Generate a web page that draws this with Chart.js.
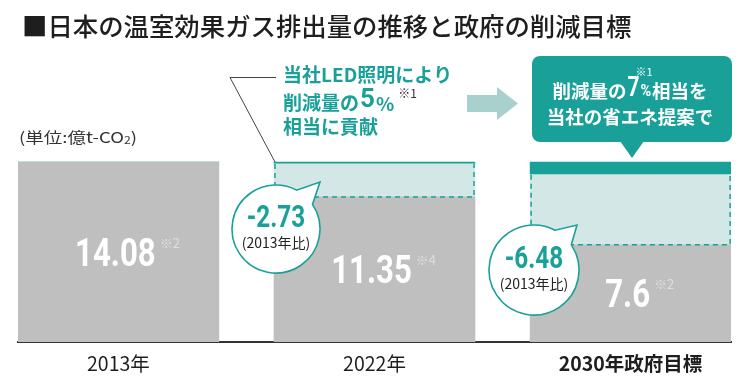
<!DOCTYPE html>
<html>
<head>
<meta charset="utf-8">
<script src="https://cdn.jsdelivr.net/npm/chart.js@4"></script>
<style>
  html, body { margin: 0; padding: 0; background: #fff; }
  #wrap { width: 750px; height: 384px; }
</style>
</head>
<body>
<div id="wrap"><canvas id="co2Chart" width="750" height="384"></canvas></div>
<script>
// Emissions in 億t-CO2
const categories = ['2013年', '2022年', '2030年政府目標'];
const emissions = [14.08, 11.35, 7.6];
const reductionRest = [0, 2.58, 5.49];   // reduction vs 2013, minus the LED / proposal share
const ledShare = [0, 0.15, 0.99];        // share covered by the company (5% / 7%)
const emissionNotes = ['※2', '※4', '※2'];
const reductionLabels = ['', '-2.73', '-6.48'];

const TEAL = '#19a199';
const LIGHT_TEAL = '#d3e8e6';
const GREY = '#bfbfbf';
const JP = '"Noto Sans CJK JP", "Noto Sans", sans-serif';
const NUM = 'Roboto, "Noto Sans", sans-serif';

// condensed bold numbers: squeeze a normal bold face horizontally
function narrowText(ctx, txt, x, y, size, align, sx) {
    sx = sx || 0.8;
    ctx.save();
    ctx.font = 'bold ' + size + 'px ' + NUM;
    const w = ctx.measureText(txt).width * sx;
    let left = x;
    if (align === 'center') left = x - w / 2;
    ctx.translate(left, y);
    ctx.scale(sx, 1);
    ctx.textAlign = 'left';
    ctx.fillText(txt, 0, 0);
    ctx.restore();
    return w;
}
function narrowWidth(ctx, txt, size, sx) {
    ctx.save();
    ctx.font = 'bold ' + size + 'px ' + NUM;
    const w = ctx.measureText(txt).width * (sx || 0.8);
    ctx.restore();
    return w;
}

function bubble(ctx, cx, cy, r, tipX, tipY) {
    const a1 = -62 * Math.PI / 180;
    const a2 = -34 * Math.PI / 180;
    ctx.beginPath();
    ctx.arc(cx, cy, r, a2, a1 + Math.PI * 2, false);
    ctx.lineTo(tipX, tipY);
    ctx.closePath();
    ctx.fillStyle = '#fff';
    ctx.fill();
    ctx.strokeStyle = TEAL;
    ctx.lineWidth = 1.6;
    ctx.stroke();
}

const annotations = {
    id: 'annotations',
    afterDatasetsDraw(chart) {
        const ctx = chart.ctx;
        const base = chart.getDatasetMeta(0).data;
        const dashed = chart.getDatasetMeta(1).data;
        ctx.save();

        // dashed outline around the reduction part
        ctx.strokeStyle = TEAL;
        ctx.lineWidth = 1.5;
        ctx.setLineDash([5, 4]);
        dashed.forEach((el, i) => {
            if (!reductionRest[i]) return;
            const l = el.x - el.width / 2 + 1, r = el.x + el.width / 2 - 1;
            ctx.beginPath();
            ctx.moveTo(l, el.y);
            ctx.lineTo(l, el.base);
            ctx.lineTo(r, el.base);
            ctx.lineTo(r, el.y);
            ctx.stroke();
        });
        ctx.setLineDash([]);

        // value labels in the grey bars
        ctx.textBaseline = 'middle';
        base.forEach((el, i) => {
            const cx = el.x - 3, cy = (el.y + el.base) / 2 + 4;
            ctx.fillStyle = '#fff';
            const txt = String(emissions[i].toFixed(i === 2 ? 1 : 2));
            const w = narrowText(ctx, txt, cx, cy, 39, 'center');
            ctx.font = '13px ' + JP;
            ctx.fillStyle = '#dedede';
            ctx.textAlign = 'left';
            ctx.fillText(emissionNotes[i], cx + w / 2 + 4, cy - 13);
        });

        // reduction bubbles
        const bubbles = [null, { cx: 276, cy: 229, r: 44, tx: 320, ty: 182 },
                               { cx: 534, cy: 270, r: 45, tx: 577, ty: 225 }];
        bubbles.forEach((b, i) => {
            if (!b) return;
            bubble(ctx, b.cx, b.cy, b.r, b.tx, b.ty);
            ctx.fillStyle = TEAL;
            narrowText(ctx, reductionLabels[i], b.cx, b.cy - 10, 32, 'center', 0.76);
            ctx.textAlign = 'center';
            ctx.fillStyle = '#222';
            ctx.font = '14px ' + JP;
            ctx.fillText('(2013年比)', b.cx, b.cy + 14);
        });
        ctx.restore();
    },
    afterDraw(chart) {
        const ctx = chart.ctx;
        ctx.save();
        ctx.textBaseline = 'middle';

        // title
        ctx.fillStyle = '#1e1e1e';
        ctx.font = '500 25.4px ' + JP;
        ctx.textAlign = 'left';
        ctx.fillText('■日本の温室効果ガス排出量の推移と政府の削減目標', 22, 26);

        // unit, stretched to the width of the original label
        ctx.save();
        ctx.fillStyle = '#333';
        ctx.font = '15px ' + JP;
        const u1 = '(単位:億t-CO', u3 = ')';
        const uw1 = ctx.measureText(u1).width, uw3 = ctx.measureText(u3).width;
        ctx.font = '10px ' + JP;
        const uw2 = ctx.measureText('2').width;
        const usx = 118 / (uw1 + uw2 + uw3);
        ctx.translate(19, 137);
        ctx.scale(usx, 1);
        ctx.font = '15px ' + JP;
        ctx.fillText(u1, 0, 0);
        ctx.font = '10px ' + JP;
        ctx.fillText('2', uw1, 3);
        ctx.font = '15px ' + JP;
        ctx.fillText(u3, uw1 + uw2, 0);
        ctx.restore();

        // leader line for the 2022 callout
        ctx.strokeStyle = '#444';
        ctx.lineWidth = 1;
        ctx.beginPath();
        ctx.moveTo(276, 77.5);
        ctx.lineTo(230, 77.5);
        ctx.lineTo(275, 162);
        ctx.stroke();

        // 2022 callout text
        ctx.fillStyle = TEAL;
        ctx.font = 'bold 19px ' + JP;
        ctx.fillText('当社LED照明により', 283, 75);
        ctx.fillText('削減量の', 283, 103);
        let x = 283 + ctx.measureText('削減量の').width;
        x += narrowText(ctx, '5', x + 1, 100, 26, 'left', 1) + 2;
        ctx.font = 'bold 19px ' + JP;
        ctx.fillText('%', x, 104);
        x += ctx.measureText('%').width;
        ctx.fillStyle = '#333';
        ctx.font = '12px ' + JP;
        ctx.fillText('※1', x + 4, 93);
        ctx.fillStyle = TEAL;
        ctx.font = 'bold 19px ' + JP;
        ctx.fillText('相当に貢献', 283, 127);

        // arrow
        ctx.fillStyle = '#a8d0cd';
        ctx.beginPath();
        ctx.moveTo(467, 95);
        ctx.lineTo(497, 95);
        ctx.lineTo(497, 87);
        ctx.lineTo(518, 103.5);
        ctx.lineTo(497, 120);
        ctx.lineTo(497, 112);
        ctx.lineTo(467, 112);
        ctx.closePath();
        ctx.fill();

        // 2030 callout box
        ctx.fillStyle = TEAL;
        ctx.beginPath();
        ctx.roundRect(532, 56, 200, 86, 8);
        ctx.fill();
        ctx.beginPath();
        ctx.moveTo(620, 141);
        ctx.lineTo(644, 141);
        ctx.lineTo(632, 158);
        ctx.closePath();
        ctx.fill();

        ctx.fillStyle = '#fff';
        const p1 = '削減量の', p2 = '7', p3 = '%', p4 = '相当を';
        ctx.font = 'bold 18.5px ' + JP;
        const w1 = ctx.measureText(p1).width, w4 = ctx.measureText(p4).width;
        const w2 = narrowWidth(ctx, p2, 28, 0.75) + 2;
        const w3 = narrowWidth(ctx, p3, 17, 0.85) + 1;
        x = 630 - (w1 + w2 + w3 + w4) / 2;
        ctx.fillText(p1, x, 91);
        narrowText(ctx, p2, x + w1 + 1, 89, 28, 'left', 0.75);
        narrowText(ctx, p3, x + w1 + w2, 92, 17, 'left', 0.85);
        ctx.font = '11px ' + JP;
        ctx.fillText('※1', x + w1 + 9, 72);
        ctx.font = 'bold 18.5px ' + JP;
        ctx.fillText(p4, x + w1 + w2 + w3, 91);
        ctx.textAlign = 'center';
        ctx.fillText('当社の省エネ提案で', 630, 117);
        ctx.restore();
    }
};

new Chart(document.getElementById('co2Chart'), {
    type: 'bar',
    data: {
        datasets: [{
            label: '排出量',
            data: emissions.map((v, i) => ({ x: i, y: v })),
            backgroundColor: GREY
        }, {
            label: '削減量',
            data: reductionRest.map((v, i) => ({ x: i, y: v })),
            backgroundColor: LIGHT_TEAL
        }, {
            label: '当社提案',
            data: ledShare.map((v, i) => ({ x: i, y: v })),
            backgroundColor: TEAL
        }]
    },
    options: {
        responsive: false,
        animation: false,
        datasets: { bar: { barThickness: 201, borderWidth: 0, grouped: false } },
        layout: { padding: { left: 18, right: 19, top: 0, bottom: 0 } },
        scales: {
            x: {
                type: 'linear',
                offset: false,
                min: -0.392,
                max: 2.392,
                grid: { display: false, drawTicks: false, offset: false },
                border: { display: true, color: '#333', width: 2 },
                afterBuildTicks: scale => { scale.ticks = categories.map((c, i) => ({ value: i })); },
                afterFit: scale => { scale.height = 42; },
                ticks: {
                    padding: 10,
                    color: '#1e1e1e',
                    autoSkip: false,
                    maxRotation: 0,
                    callback: v => categories[v],
                    font: ctx => ({ family: JP, size: 19.5, weight: ctx.index === 2 ? 'bold' : 'normal' })
                }
            },
            y: {
                stacked: true,
                display: false,
                min: 0,
                max: 26.75
            }
        },
        plugins: {
            legend: { display: false },
            tooltip: { enabled: false }
        }
    },
    plugins: [annotations]
});
</script>
</body>
</html>
